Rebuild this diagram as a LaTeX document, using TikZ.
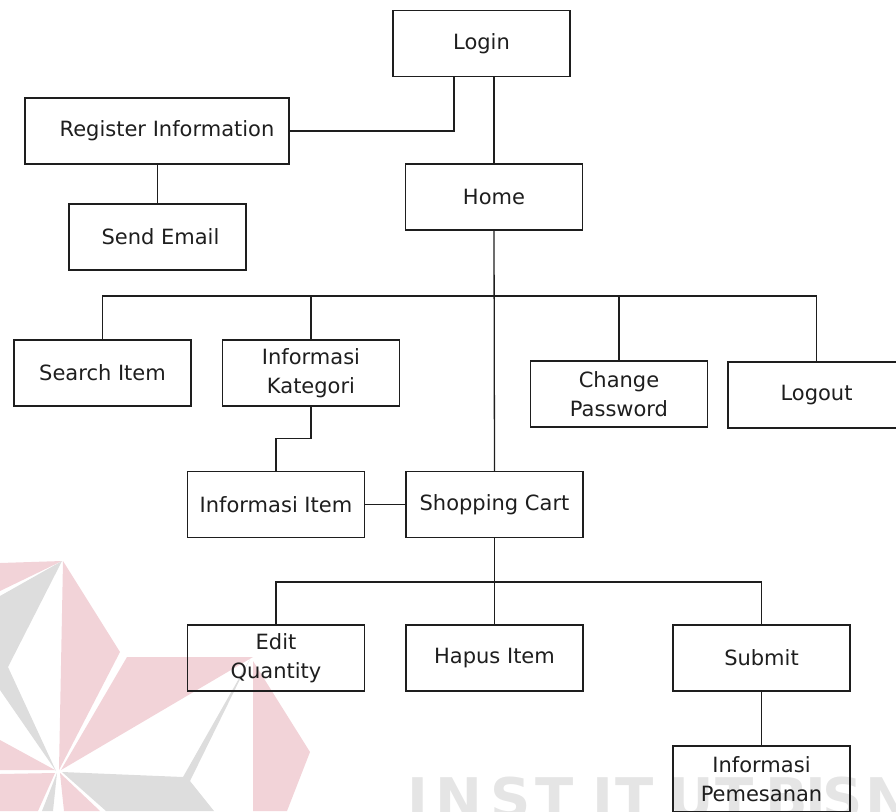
\documentclass[tikz,border=0pt]{standalone}
\usepackage{fontspec}
\setmainfont{DejaVu Sans}
\newfontfamily\wmfont{DejaVu Sans}
\definecolor{wmpink}{RGB}{242,211,216}
\definecolor{wmgray}{RGB}{221,221,221}
\definecolor{wmtext}{RGB}{229,229,229}
\definecolor{ink}{RGB}{30,30,30}

\begin{document}
\begin{tikzpicture}[x=1pt,y=-1pt,
  menubox/.style={draw=ink, line width=1.3pt, minimum width=177pt,
    minimum height=66pt, inner sep=0pt, align=center, text=ink,
    font=\fontsize{21}{28.5}\selectfont},
  link/.style={draw=ink, line width=1.3pt},
  wmletter/.style={anchor=base west, inner sep=0pt, text=wmtext,
    font=\wmfont\bfseries\fontsize{56}{56}\selectfont}]
\useasboundingbox (0,0) rectangle (896,811);
\clip (0,0) rectangle (896,811);

% --- background logo (pinwheel) ---
\fill[wmpink] (0,563) -- (62,561) -- (0,591) -- cycle;
\fill[wmgray] (62,561) -- (0,596) -- (0,690) -- (56,771) -- (8,667) -- cycle;
\fill[wmpink] (0,740) -- (55,770) -- (0,770) -- cycle;
\fill[wmpink] (0,774) -- (55,773) -- (38,811) -- (0,811) -- cycle;
\fill[wmgray] (57,773) -- (42,811) -- (53,811) -- cycle;
\fill[wmpink] (60,773) -- (64,811) -- (100,811) -- cycle;
\fill[wmpink] (63,561) -- (120,652) -- (59,770) -- cycle;
\fill[wmpink] (127,657) -- (253,657) -- (61,770) -- cycle;
\fill[wmgray] (62,772) -- (183,777) -- (250,659) -- (190,781) -- (214,811) -- (106,811) -- cycle;
\fill[wmpink] (253,661) -- (310,752) -- (287,811) -- (253,811) -- cycle;

% --- background lettering ---
\foreach \x/\c [count=\i] in {412/I,440/N,495/S,540/T,597/I,620/T,673/U,720/T,770/B,810/I,827/S,870/N}
  \node[wmletter] (wm\i) at (\x-5,818) {\c};

% --- menu boxes ---
\node[menubox] (login)    at (481.5,43.5) {Login};
\node[menubox, minimum width=264pt] (register) at (157,131) {\hspace*{20pt}Register Information};
\node[menubox] (email)    at (157.5,237)  {\hspace*{6pt}Send Email};
\node[menubox] (home)     at (494,197)    {Home};
\node[menubox] (search)   at (102.5,373)  {Search Item};
\node[menubox] (kat)      at (311,373)    {Informasi\\Kategori};
\node[menubox] (pwd)      at (619,394)    {Change\\Password};
\node[menubox] (logout)   at (816.5,395)  {Logout};
\node[menubox] (item)     at (276,504.5)  {Informasi Item};
\node[menubox] (cart)     at (494.5,504.5){Shopping Cart};
\node[menubox] (edit)     at (276,658)    {Edit\\Quantity};
\node[menubox] (hapus)    at (494.5,658)  {Hapus Item};
\node[menubox] (submit)   at (761.5,658)  {Submit};
\node[menubox] (pemes)    at (761.5,779)  {Informasi\\Pemesanan};

\coordinate (busA) at (494,296);
\coordinate (busB) at (494,582);

% --- connectors ---
\draw[link] ([xshift=-27.5pt]login.south) |- (register.east);
\draw[link] (register.south -| email.north) -- (email.north);
\draw[link] (home.north |- login.south) -- (home.north);
\draw[link] (home.south) -- (cart.north);
\draw[link] (search.north) |- (logout.north |- busA) -- (logout.north);
\draw[link] (kat.north) -- (kat.north |- busA);
\draw[link] (pwd.north) -- (pwd.north |- busA);
\draw[link] (kat.south) -- ++(0,32) -| (item.north);
\draw[link] (item.east) -- (cart.west);
\draw[link] (cart.south) -- (hapus.north);
\draw[link] (edit.north) |- (submit.north |- busB) -- (submit.north);
\draw[link] (submit.south) -- (pemes.north);
\end{tikzpicture}
\end{document}
